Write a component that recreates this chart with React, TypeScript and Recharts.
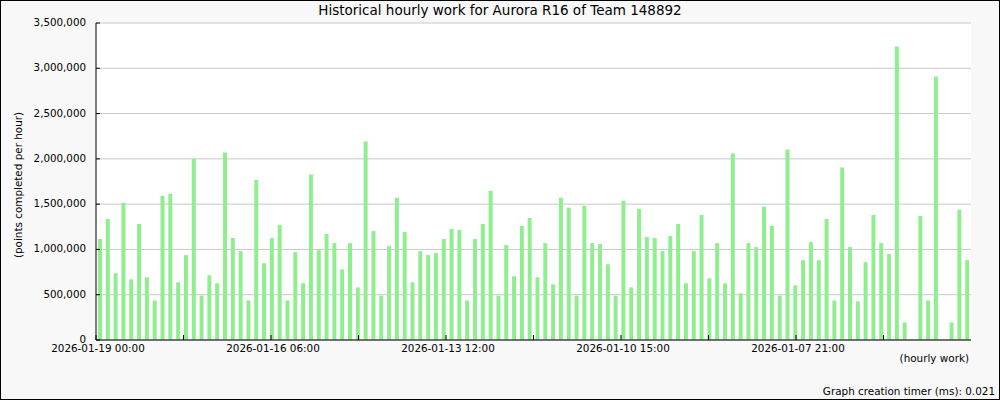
import React from "react";
import { Bar, BarChart, CartesianGrid, XAxis, YAxis } from "recharts";

// hourly work values (points per hour), newest hour first
const hourlyPoints = [
  1115000, 1337000, 737000, 1515000, 670000, 1281000, 693000, 437000, 1593000, 1615000,
  637000, 937000, 2000000, 489000, 715000, 626000, 2070000, 1126000, 981000, 437000,
  1770000, 848000, 1126000, 1270000, 437000, 970000, 626000, 1826000, 993000, 1170000,
  1070000, 781000, 1070000, 581000, 2193000, 1204000, 489000, 1037000, 1570000, 1193000,
  637000, 981000, 937000, 959000, 1115000, 1226000, 1215000, 437000, 1115000, 1281000,
  1648000, 489000, 1048000, 704000, 1259000, 1348000, 693000, 1070000, 615000, 1570000,
  1459000, 489000, 1481000, 1070000, 1059000, 837000, 489000, 1537000, 581000, 1448000,
  1137000, 1126000, 981000, 1148000, 1281000, 626000, 981000, 1381000, 681000, 1070000,
  626000, 2059000, 515000, 1070000, 1026000, 1470000, 1259000, 489000, 2104000, 604000,
  881000, 1081000, 881000, 1337000, 437000, 1904000, 1026000, 426000, 859000, 1381000,
  1070000, 948000, 3240000, 193000, 0, 1370000, 437000, 2910000, 0, 193000,
  1437000, 881000,
];

const hourSlots = hourlyPoints.map((_, i) => i + 0.5);

const xTickLabels = [
  "2026-01-19 00:00",
  "2026-01-16 06:00",
  "2026-01-13 12:00",
  "2026-01-10 15:00",
  "2026-01-07 21:00",
];

const yTicks = [0, 500000, 1000000, 1500000, 2000000, 2500000, 3000000, 3500000];

const slotCount = hourlyPoints.length;
const xTickCount = xTickLabels.length * 2;
const xTicks = Array.from({ length: xTickCount }, (_, i) => (i * slotCount) / xTickCount);

const data = hourSlots.map((slot, i) => ({ slot, points: hourlyPoints[i] }));

const FONT = "'DejaVu Sans', Verdana, sans-serif";

function XTick(props: any) {
  const { x, y, index } = props;
  const label = index % 2 === 0 ? xTickLabels[index / 2] : "";
  return (
    <g>
      <line x1={x} x2={x} y1={y - 5} y2={y} stroke="#000" />
      {label && (
        <text x={x + 2} y={y + 8} textAnchor="middle" dominantBaseline="central" fontSize={10.4} fontFamily={FONT} fill="#000">
          {label}
        </text>
      )}
    </g>
  );
}

function YTick(props: any) {
  const { x, y, payload } = props;
  return (
    <g>
      <line x1={x} x2={x + 4} y1={y} y2={y} stroke="#000" />
      <text x={x - 10} y={y - 1} textAnchor="end" dominantBaseline="central" fontSize={10.3} fontFamily={FONT} fill="#000">
        {payload.value.toLocaleString("en-US")}
      </text>
    </g>
  );
}

export default function App() {
  return (
    <div style={{ position: "absolute", left: 0, top: 0, width: 1000, height: 400, background: "#f8f8f8", fontFamily: FONT }}>
      <BarChart width={1000} height={400} data={data} margin={{ top: 23, right: 29, bottom: 0, left: 0 }}>
        <CartesianGrid vertical={false} stroke="#c8c8c8" fill="#ffffff" />
        <XAxis
          dataKey="slot"
          type="number"
          domain={[0, slotCount]}
          allowDataOverflow
          ticks={xTicks}
          interval={0}
          height={60}
          tickSize={0}
          tickMargin={0}
          axisLine={{ stroke: "#000" }}
          tickLine={false}
          tick={<XTick />}
        />
        <YAxis
          domain={[0, 3500000]}
          ticks={yTicks}
          interval={0}
          width={96}
          tickSize={0}
          tickMargin={0}
          axisLine={{ stroke: "#000" }}
          tickLine={false}
          tick={<YTick />}
        />
        <Bar dataKey="points" fill="#90ee90" barSize={4} isAnimationActive={false} />
      </BarChart>
      <div style={{ position: "absolute", left: 0, top: 2, width: 1000, textAlign: "center", fontSize: 13.5, color: "#000", whiteSpace: "nowrap" }}>
        Historical hourly work for Aurora R16 of Team 148892
      </div>
      <div style={{ position: "absolute", left: 18, top: 185, transform: "translate(-50%, -50%) rotate(-90deg)", fontSize: 10.4, color: "#000", whiteSpace: "nowrap" }}>
        (points completed per hour)
      </div>
      <div style={{ position: "absolute", right: 31, top: 352, fontSize: 10.4, color: "#000", whiteSpace: "nowrap" }}>
        (hourly work)
      </div>
      <div style={{ position: "absolute", right: 5, top: 385, fontSize: 10.4, color: "#000", whiteSpace: "nowrap" }}>
        Graph creation timer (ms): 0.021
      </div>
      <div style={{ position: "absolute", inset: 0, border: "1px solid #000", pointerEvents: "none" }} />
    </div>
  );
}
